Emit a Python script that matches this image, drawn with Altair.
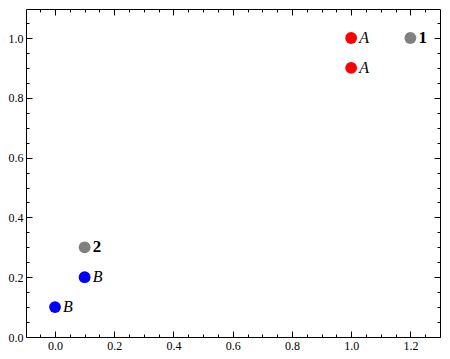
import altair as alt
import pandas as pd

# data
xs = [1.0, 1.0, 1.2, 0.1, 0.1, 0.0]
ys = [1.0, 0.9, 1.0, 0.3, 0.2, 0.1]
labels = ["A", "A", "1", "2", "B", "B"]
groups = ["red", "red", "gray", "gray", "blue", "blue"]
kinds = ["letter", "letter", "number", "number", "letter", "letter"]

x_major = [0.0, 0.2, 0.4, 0.6, 0.8, 1.0, 1.2]
y_major = [0.0, 0.2, 0.4, 0.6, 0.8, 1.0]
x_minor = [-0.05, 0.05, 0.1, 0.15, 0.25, 0.3, 0.35, 0.45, 0.5, 0.55, 0.65, 0.7, 0.75,
           0.85, 0.9, 0.95, 1.05, 1.1, 1.15, 1.25]
y_minor = [0.05, 0.1, 0.15, 0.25, 0.3, 0.35, 0.45, 0.5, 0.55, 0.65, 0.7, 0.75,
           0.85, 0.9, 0.95, 1.05]

df = pd.DataFrame({"x": xs, "y": ys, "label": labels, "group": groups, "kind": kinds})

FONT = "Liberation Serif, Times New Roman, serif"
xscale = alt.Scale(domain=[-0.098, 1.3], nice=False, zero=False)
yscale = alt.Scale(domain=[0.0, 1.097], nice=False, zero=False)
cscale = alt.Scale(domain=["red", "gray", "blue"], range=["#ff0000", "#808080", "#0000ff"])


def ax(orient, values, size, show_labels):
    kw = dict(orient=orient, values=values, tickSize=size, offset=-size, domain=False,
              grid=False, tickColor="black", tickWidth=1, title=None,
              labels=show_labels, labelOverlap=False, labelBound=False, labelFlush=False)
    if show_labels:
        kw.update(format=".1f", labelFont=FONT, labelFontSize=12, labelColor="black",
                  labelPadding=3)
    return alt.Axis(**kw)


base = alt.Chart(df)

pts = base.mark_circle(size=140, opacity=1).encode(
    x=alt.X("x:Q", scale=xscale, axis=ax("bottom", x_major, 6, True)),
    y=alt.Y("y:Q", scale=yscale, axis=ax("left", y_major, 6, True)),
    color=alt.Color("group:N", scale=cscale, legend=None),
)
minor1 = base.mark_point(opacity=0).encode(
    x=alt.X("x:Q", scale=xscale, axis=ax("bottom", x_minor, 3, False)),
    y=alt.Y("y:Q", scale=yscale, axis=ax("left", y_minor, 3, False)),
)
major2 = base.mark_point(opacity=0).encode(
    x=alt.X("x:Q", scale=xscale, axis=ax("top", x_major, 6, False)),
    y=alt.Y("y:Q", scale=yscale, axis=ax("right", y_major, 6, False)),
)
minor2 = base.mark_point(opacity=0).encode(
    x=alt.X("x:Q", scale=xscale, axis=ax("top", x_minor, 3, False)),
    y=alt.Y("y:Q", scale=yscale, axis=ax("right", y_minor, 3, False)),
)

letters = base.transform_filter(alt.datum.kind == "letter").mark_text(
    align="left", baseline="middle", dx=8, font=FONT, fontSize=16, fontStyle="italic",
    color="black",
).encode(
    x=alt.X("x:Q", scale=xscale, axis=None),
    y=alt.Y("y:Q", scale=yscale, axis=None),
    text="label:N",
)
numbers = base.transform_filter(alt.datum.kind == "number").mark_text(
    align="left", baseline="middle", dx=8, font=FONT, fontSize=17, fontWeight="bold",
    color="black",
).encode(
    x=alt.X("x:Q", scale=xscale, axis=None),
    y=alt.Y("y:Q", scale=yscale, axis=None),
    text="label:N",
)

chart = alt.layer(pts, minor1, major2, minor2, letters, numbers).resolve_axis(
    x="independent", y="independent"
).properties(
    width=434, height=343,
    autosize=alt.AutoSizeParams(type="fit", contains="padding"),
    padding={"left": 0, "top": 0, "right": 1, "bottom": 0},
).configure_view(stroke="black", strokeWidth=1)

chart.save("out.html", embed_options={"renderer": "svg", "actions": False})
